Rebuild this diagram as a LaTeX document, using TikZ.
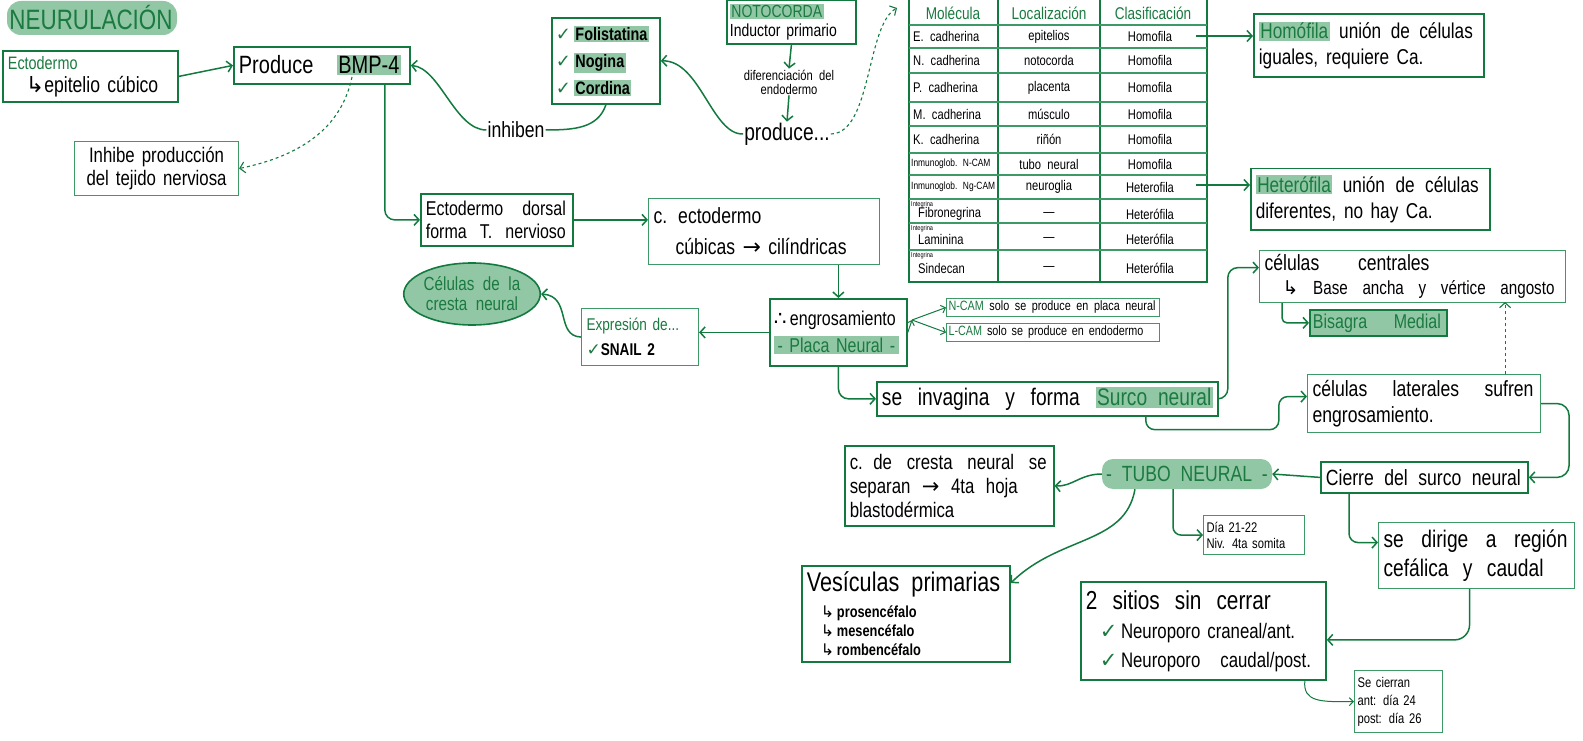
\documentclass[tikz,border=0pt]{standalone}
\usepackage{fontspec}
\setmainfont{Liberation Sans}[FakeStretch=0.8]
\newfontfamily\sym{DejaVu Sans}
\usetikzlibrary{arrows.meta,shapes.geometric}
\definecolor{dg}{HTML}{137A3F}
\definecolor{mg}{HTML}{3D9A66}
\definecolor{hl}{HTML}{92C7A6}
\definecolor{tg}{HTML}{1A7A40}
\newcommand\fs[2]{\fontsize{#1}{#2}\selectfont\spaceskip=0.45em plus 0.3em minus 0.1em\relax}
\newcommand\spr[2]{\makebox[#1][s]{\spaceskip=0.45em plus 1em minus 0.1em\relax #2}}
\newcommand\hlt[1]{{\setlength{\fboxsep}{1.5pt}\colorbox{hl}{#1}}}
\newcommand\ck{{\sym\textcolor{tg}{✓}}}
\newcommand\hk{{\sym ↳}}
\begin{document}
\begin{tikzpicture}[x=1pt,y=-1pt,
  box/.style={draw=dg, line width=1.8pt, anchor=north west, inner sep=5pt, align=left},
  lbox/.style={draw=mg, line width=1.1pt, anchor=north west, inner sep=5pt, align=left},
  lab/.style={inner sep=1pt, align=center},
  th/.style={inner sep=0pt, text=tg, font=\fs{17}{18}},
  td/.style={inner sep=0pt, font=\fs{14}{15}},
  arr/.style={draw=dg, line width=1.5pt, -{Straight Barb[length=5pt,width=11pt]}},
  tarr/.style={draw=dg, line width=1pt, -{Straight Barb[length=4pt,width=8pt]}},
  ln/.style={draw=dg, line width=1.5pt},
]
\useasboundingbox (0,0) rectangle (1583,741);

% ---------- title
\fill[hl, rounded corners=14pt] (7,1) rectangle (177,35);
\node[text=tg, font=\fs{28}{29}] (title) at (91,17) {NEURULACIÓN};

% ---------- top-left
\node[box, text width=165, minimum width=175, minimum height=51, font=\fs{22}{23}] (ecto) at (2,50)
  {{\fs{18}{19}\textcolor{tg}{Ectodermo}}\\\hspace*{18pt}\hk epitelio cúbico};
\node[box, text width=166, minimum width=176, minimum height=37, font=\fs{25}{26}] (produce) at (233,46)
  {\spr{162pt}{Produce \hlt{BMP-4}}};
\node[lbox, text width=154, minimum width=164, minimum height=54, align=center, font=\fs{21}{23}] (inhibe) at (74,141)
  {Inhibe producción\\del tejido nerviosa};
\node[box, text width=100, minimum width=108, minimum height=86, inner sep=4pt, font=\fs{18}{27}] (folist) at (551,17)
  {\ck\,\hlt{\textbf{Folistatina}}\\\ck\,\hlt{\textbf{Nogina}}\\\ck\,\hlt{\textbf{Cordina}}};
\node[box, text width=123, minimum width=129, minimum height=44, inner sep=3pt, font=\fs{17.5}{19}] (noto) at (726,-1)
  {\hlt{\textcolor{tg}{NOTOCORDA}}\\Inductor primario};
\node[lab, font=\fs{14}{14}] (dif) at (789,82) {diferenciación del\\endodermo};
\node[lab, font=\fs{24}{25}] (producep) at (787,134) {produce...};
\node[lab, font=\fs{22}{23}] (inhiben) at (516,130) {inhiben};

% ---------- table
\draw[dg, line width=2pt] (909,-2) -- (909,282) -- (1207,282) -- (1207,-2);
\draw[dg, line width=1.6pt] (998,-2) -- (998,282) (1100,-2) -- (1100,282);
\foreach \yy in {25,48,73,102,126,153,175,199,223,250}
  \draw[mg, line width=1.2pt] (909,\yy) -- (1207,\yy);
\coordinate (ttl) at (897,8);
\node[th] (h1) at (953,13) {Molécula};
\node[th] (h2) at (1049,13) {Localización};
\node[th] (h3) at (1153,13) {Clasificación};
\foreach \i/\yy/\m/\l/\c in {1/36.5/E. cadherina/epitelios/Homofila,
  2/60.5/N. cadherina/notocorda/Homofila, 3/87.5/P. cadherina/placenta/Homofila,
  4/114/M. cadherina/músculo/Homofila, 5/139.5/K. cadherina/riñón/Homofila}{
  \node[td, anchor=west] (m\i) at (913,\yy) {\m};
  \node[td] (l\i) at (1049,\yy) {\l};
  \node[td] (c\i) at (1150,\yy) {\c};
}
\node[td, anchor=west, font=\fs{10.5}{11}] (m6) at (911,164) {Inmunoglob. N-CAM};
\node[td] (l6) at (1049,164) {tubo neural};
\node[td] (c6) at (1150,164) {Homofila};
\node[td, anchor=west, font=\fs{10.5}{11}] (m7) at (911,187) {Inmunoglob. Ng-CAM};
\node[td] (l7) at (1049,187) {neuroglia};
\node[td] (c7) at (1150,187) {Heterofila};
\foreach \i/\tp/\yy/\m in {8/199/214/Fibronegrina, 9/223/239/Laminina, 10/250/268/Sindecan}{
  \node[td, anchor=west, font=\fs{7}{8}] (g\i) at (911,\tp+6) {Integrina};
  \node[td, anchor=west] (m\i) at (918,\yy) {\m};
  \node[td] (l\i) at (1049,\yy) {—};
  \node[td] (c\i) at (1150,\yy) {Heterófila};
}
\coordinate (r1) at (1196,36);
\coordinate (r7) at (1196,185);

% ---------- right top
\node[box, text width=220, minimum width=230, minimum height=63, font=\fs{21.5}{26}] (homo) at (1253,13)
  {\spr{214pt}{\hlt{\textcolor{tg}{Homófila}} unión de células}\\\spr{150pt}{iguales, requiere Ca.}};
\node[box, line width=1.5pt, text width=229, minimum width=239, minimum height=61, font=\fs{21.5}{26}] (hetero) at (1250,168)
  {\spr{223pt}{\hlt{\textcolor{tg}{Heterófila}} unión de células}\\\spr{160pt}{diferentes, no hay Ca.}};
\node[lbox, text width=296, minimum width=306, minimum height=48, inner sep=4pt, font=\fs{22}{24}] (celc) at (1259,250)
  {\spr{165pt}{células centrales}\\{\fs{19}{20}\hspace*{18pt}\spr{272pt}{\hk\ Base ancha y vértice angosto}}};
\node[box, fill=hl, text width=131, minimum width=137, minimum height=26, inner sep=3pt, font=\fs{20}{21}] (bis) at (1309,309)
  {\spr{128pt}{\textcolor{tg}{Bisagra Medial}}};

% ---------- middle
\node[box, text width=142, minimum width=152, minimum height=52, font=\fs{20}{23}] (edorsal) at (420,193)
  {\spr{140pt}{Ectodermo dorsal}\\\spr{140pt}{forma T. nervioso}};
\node[lbox, text width=221, minimum width=231, minimum height=66, font=\fs{22}{31}] (cecto) at (648,198)
  {c. ectodermo\\\hspace*{22pt}cúbicas {\sym→} cilíndricas};
\node[ellipse, draw=dg, line width=1.6pt, fill=hl, minimum width=130, minimum height=62, inner sep=0pt,
  align=center, text=tg, font=\fs{19}{20}] (cells) at (472,294) {Células de la\\cresta neural};
\node[lbox, text width=107, minimum width=117, minimum height=57, font=\fs{17}{25}] (expres) at (581,308)
  {\textcolor{tg}{Expresión de...}\\\ck\textbf{SNAIL 2}};
\node[box, text width=129, minimum width=137, minimum height=67, inner sep=4pt, font=\fs{20}{27}] (engros) at (769,298)
  {{\sym∴}\,engrosamiento\\\hlt{\makebox[122pt]{\textcolor{tg}{-\ Placa Neural\ -}}}};
\node[lbox, line width=1pt, text width=209, minimum width=213, minimum height=18, inner sep=2pt, font=\fs{13.5}{14}] (ncam) at (946,298)
  {\spr{207pt}{\textcolor{tg}{N-CAM} solo se produce en placa neural}};
\node[lbox, line width=1pt, text width=209, minimum width=213, minimum height=18, inner sep=2pt, font=\fs{13.5}{14}] (lcam) at (946,323)
  {\spr{195pt}{\textcolor{tg}{L-CAM} solo se produce en endodermo}};
\coordinate (br) at (912,320);
\node[box, text width=331, minimum width=341, minimum height=33, font=\fs{24}{25}] (surco) at (876,381)
  {\spr{331pt}{se invagina y forma \hlt{\textcolor{tg}{Surco neural}}}};
\node[lbox, text width=223, minimum width=233, minimum height=58, font=\fs{22}{26}] (cellat) at (1307,374)
  {\spr{221pt}{células laterales sufren}\\engrosamiento.};

% ---------- bottom
\node[box, text width=197, minimum width=207, minimum height=31, inner sep=5pt, font=\fs{22}{23}] (cierre) at (1320,461)
  {\spr{195pt}{Cierre del surco neural}};
\node[fill=hl, rounded corners=11pt, minimum width=170, minimum height=30, inner sep=0pt, text=tg, font=\fs{22}{23}] (tubo) at (1187,474)
  {-\ TUBO NEURAL\ -};
\node[lbox, text width=95, minimum width=101, minimum height=39, inner sep=3pt, font=\fs{14}{16}] (dia) at (1203,515)
  {Día 21-22\\Niv. 4ta somita};
\node[lbox, text width=186, minimum width=196, minimum height=66, font=\fs{24}{29}] (sedir) at (1378,522)
  {\spr{184pt}{se dirige a región}\\\spr{160pt}{cefálica y caudal}};
\node[box, text width=235, minimum width=245, minimum height=98, font=\fs{21}{29}] (sitios) at (1080,581)
  {{\fs{26}{27}\spr{185pt}{2 sitios sin cerrar}}\\\hspace*{14pt}\ck\,Neuroporo craneal/ant.\\\hspace*{14pt}\ck\,\spr{190pt}{Neuroporo caudal/post.}};
\node[lbox, text width=82, minimum width=88, minimum height=62, inner sep=3pt, font=\fs{14}{18}] (secier) at (1354,670)
  {Se cierran\\ant: día 24\\post: día 26};
\node[box, line width=1.5pt, text width=199, minimum width=209, minimum height=80, font=\fs{21}{24}] (cresta) at (844,445)
  {\spr{197pt}{c. de cresta neural se}\\\spr{168pt}{separan {\sym→} 4ta hoja}\\blastodérmica};
\node[box, text width=198, minimum width=208, minimum height=96, font=\fs{16}{19}] (ves) at (801,565)
  {{\fs{27}{28}Vesículas primarias}\\[7pt]\hspace*{14pt}\hk\,\textbf{prosencéfalo}\\\hspace*{14pt}\hk\,\textbf{mesencéfalo}\\\hspace*{14pt}\hk\,\textbf{rombencéfalo}};

% ---------- connectors
\draw[arr] (ecto.east) -- (produce.west);
\coordinate (bmpb) at (352,77);
\draw[arr, dashed, line width=1.1pt] (bmpb) .. controls (340,135) and (290,158) .. (inhibe.east);
\draw[arr, rounded corners=10pt] (produce.south east) ++(-26,0) |- (edorsal.west);
\draw[ln] (folist.south) .. controls (598,128) and (575,130) .. (inhiben.east);
\draw[arr] (inhiben.west) .. controls (455,130) and (440,68) .. (produce.east);
\draw[arr] (producep.west) .. controls (712,135) and (700,60) .. (folist.east);
\draw[arr] (noto.south) -- (dif.north);
\draw[arr] (dif.south) -- (producep.north);
\draw[arr, dashed, line width=1.1pt] (producep.east) .. controls (872,133) and (866,25) .. (ttl);
\draw[arr] (r1) -- (r1 -| homo.west);
\draw[arr] (r7) -- (r7 -| hetero.west);
\draw[arr] (edorsal.east) -- (edorsal.east -| cecto.west);
\draw[arr] (engros.north |- cecto.south) -- (engros.north);
\draw[arr] (engros.west) -- (engros.west -| expres.east);
\draw[arr] (expres.west) .. controls (555,336) and (572,296) .. (cells.east);
\draw[tarr] (engros.east) -- (br);
\draw[tarr] (br) -- (ncam.west);
\draw[tarr] (br) -- (lcam.west);
\draw[arr, rounded corners=10pt] (engros.south) |- (surco.west);
\draw[arr, rounded corners=10pt] (surco.east) -- ++(9,0) |- ([yshift=9pt]celc.west);
\draw[arr, rounded corners=9pt] ([xshift=-73pt]surco.south east) -- ++(0,13) -- ++(133,0) |- ([yshift=7pt]cellat.west);
\draw[arr, dashed, line width=1.1pt] ([xshift=-36pt]cellat.north east) -- ++(0,-72);
\draw[arr, rounded corners=5pt] ([xshift=23pt]celc.south west) |- (bis.west);
\draw[arr, rounded corners=12pt] (cellat.east) -- ++(28,0) |- (cierre.east);
\draw[arr] (cierre.west) -- (tubo.east);
\draw[arr, rounded corners=9pt] ([xshift=29pt]cierre.south west) |- ([yshift=13pt]sedir.west);
\draw[arr, rounded corners=15pt] ([xshift=-7pt]sedir.south) |- ([yshift=-9pt]sitios.east);
\draw[tarr] ([xshift=-22pt]sitios.south east) .. controls (1303,702) and (1320,702) .. (secier.west);
\draw[arr, rounded corners=8pt] ([xshift=-14pt]tubo.south) |- (dia.west);
\draw[arr] (tubo.west) .. controls (1080,474) and (1072,487) .. (cresta.east);
\draw[arr] ([xshift=-52pt]tubo.south) .. controls (1125,545) and (1060,535) .. ([yshift=-18pt]ves.north east);
\end{tikzpicture}
\end{document}
